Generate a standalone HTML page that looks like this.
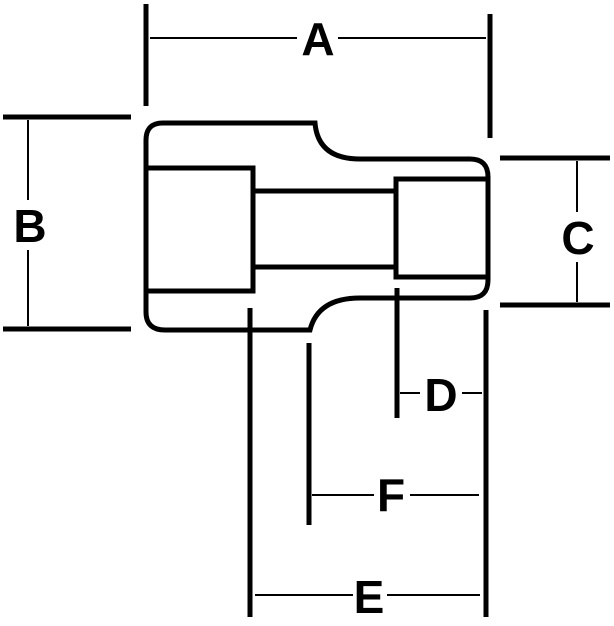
<!DOCTYPE html>
<html><head><style>html,body{margin:0;padding:0;background:#fff;}</style></head>
<body>
<svg width="614" height="621" viewBox="0 0 614 621" xmlns="http://www.w3.org/2000/svg">
<g fill="none" stroke="#000" stroke-width="5">
<path d="M146,140 Q146,123 163,123 L315,123 Q318,159 360,159 L470,159 Q488,159 488,177 L488,280 Q488,298 470,298 L360,298 Q318,298 310,330 L165,330 Q146,330 146,312 Z"/>
<path d="M146,168 L253,168 L253,291 L146,291"/>
<line x1="255" y1="191" x2="395" y2="191"/>
<line x1="255" y1="267" x2="395" y2="267"/>
<path d="M488,179 L396,179 L396,277 L488,277"/>
<!-- extension lines -->
<line x1="146" y1="4" x2="146" y2="106"/>
<line x1="490" y1="14" x2="490" y2="138"/>
<line x1="3" y1="117" x2="131" y2="117"/>
<line x1="3" y1="329" x2="131" y2="329"/>
<line x1="500" y1="158" x2="610" y2="158"/>
<line x1="500" y1="305" x2="610" y2="305"/>
<line x1="397" y1="288" x2="397" y2="418"/>
<line x1="486" y1="310" x2="486" y2="617"/>
<line x1="309" y1="343" x2="309" y2="525"/>
<line x1="250" y1="308" x2="250" y2="617"/>
</g>
<g stroke="#000" stroke-width="2">
<line x1="150" y1="38" x2="297" y2="38"/><line x1="338" y1="38" x2="486" y2="38"/>
<line x1="28" y1="120" x2="28" y2="200"/><line x1="28" y1="250" x2="28" y2="326"/>
<line x1="577" y1="161" x2="577" y2="212"/><line x1="577" y1="262" x2="577" y2="302"/>
<line x1="400" y1="393" x2="420" y2="393"/><line x1="462" y1="393" x2="482" y2="393"/>
<line x1="312" y1="495" x2="374" y2="495"/><line x1="410" y1="495" x2="479" y2="495"/>
<line x1="255" y1="595" x2="353" y2="595"/><line x1="387" y1="595" x2="480" y2="595"/>
</g>
<g font-family="Liberation Sans, sans-serif" font-weight="bold" font-size="46" text-anchor="middle">
<text x="318" y="55">A</text>
<text x="30" y="242">B</text>
<text x="578" y="254">C</text>
<text x="441" y="411">D</text>
<text x="391" y="511">F</text>
<text x="369" y="613">E</text>
</g>
</svg>
</body></html>
